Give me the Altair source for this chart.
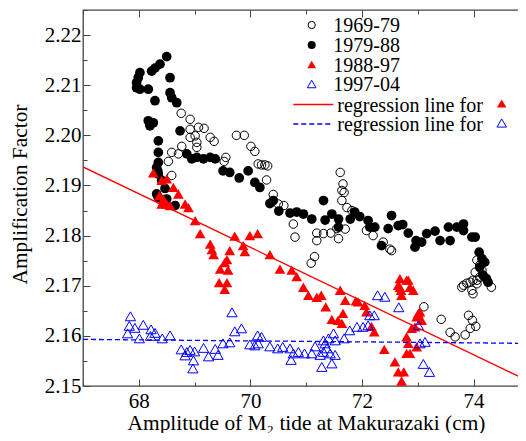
import altair as alt
import pandas as pd

# ---------------- data ----------------
x_1969_79 = [68.76, 68.92, 68.92, 69.07, 69.17, 69.01, 68.92, 69.28, 69.35, 69.04,
             69.04, 68.77, 68.59, 68.71, 69.75, 69.89, 70.01, 70.08, 69.56, 69.53,
             68.53, 70.14, 70.20, 70.26, 70.31, 70.29, 70.41, 70.50, 70.60, 68.59,
             70.77, 70.80, 71.19, 71.31, 71.44, 71.55, 71.70, 71.19, 71.58, 71.15,
             71.09, 71.61, 71.66, 71.64, 71.68, 71.64, 71.73, 71.82, 72.08, 72.20,
             72.38, 72.50, 73.11, 73.42, 73.58, 73.67, 73.85, 73.91, 73.98, 74.04,
             73.94, 73.82, 73.88, 73.94, 73.99, 74.06, 74.11, 74.03, 74.15, 74.32,
             74.11, 74.06, 73.97, 73.99, 74.06, 73.79, 72.53]
y_1969_79 = [2.2044, 2.2032, 2.2012, 2.2016, 2.2014, 2.1999, 2.1996, 2.1996, 2.1988, 2.1986,
             2.1976, 2.1978, 2.1966, 2.1963, 2.2000, 2.2000, 2.1978, 2.1968, 2.1956, 2.1948,
             2.1948, 2.1943, 2.1941, 2.1941, 2.1939, 2.1911, 2.1882, 2.1863, 2.1860, 2.1920,
             2.1823, 2.1797, 2.1805, 2.1804, 2.1805, 2.1814, 2.1813, 2.1790, 2.1794, 2.1758,
             2.1745, 2.1926, 2.1903, 2.1890, 2.1886, 2.1870, 2.1856, 2.1850, 2.1810, 2.1800,
             2.1787, 2.1773, 2.1658, 2.1633, 2.1607, 2.1598, 2.1602, 2.1641, 2.1631, 2.1619,
             2.1615, 2.1701, 2.1705, 2.1707, 2.1711, 2.1711, 2.1717, 2.1727, 2.1731, 2.1697,
             2.1741, 2.1751, 2.1691, 2.1684, 2.1704, 2.1697, 2.1770]

x_1979_88 = [68.50, 68.38, 68.29, 68.23, 68.02, 67.99, 67.96, 67.96, 68.02, 68.17,
             68.56, 68.56, 68.59, 68.68, 68.29, 68.17, 68.20, 68.26, 68.35, 68.74,
             68.35, 68.35, 68.32, 68.35, 68.86, 68.95, 69.04, 69.16, 69.28, 69.37,
             68.41, 68.32, 68.35, 68.50, 68.65, 69.51, 69.63, 69.80, 69.96, 70.08,
             70.17, 70.35, 70.41, 70.51, 70.71, 70.83, 70.95, 71.10, 71.31, 71.34,
             71.46, 71.58, 71.58, 71.79, 71.87, 71.96, 72.11, 72.14, 72.23, 72.35,
             72.47, 72.53, 72.65, 72.73, 72.83, 72.97, 72.95, 73.07, 73.16, 73.31,
             73.40, 73.55, 73.58, 73.70, 73.82, 73.82, 73.97, 74.03, 74.10, 74.15,
             74.20, 74.11, 74.17, 74.23, 74.26, 68.47, 68.34]
y_1979_88 = [2.2157, 2.2142, 2.2134, 2.2128, 2.2125, 2.2115, 2.2105, 2.2095, 2.2092, 2.2092,
             2.2115, 2.2085, 2.2075, 2.2065, 2.2069, 2.2029, 2.2019, 2.2025, 2.1989, 2.2009,
             2.1966, 2.1946, 2.1936, 2.1923, 2.1963, 2.1953, 2.1956, 2.1953, 2.1956, 2.1953,
             2.1910, 2.1883, 2.1876, 2.1873, 2.1860, 2.1929, 2.1926, 2.1915, 2.1929, 2.1906,
             2.1896, 2.1864, 2.1870, 2.1849, 2.1845, 2.1847, 2.1843, 2.1833, 2.1870, 2.1831,
             2.1843, 2.1833, 2.1817, 2.1833, 2.1847, 2.1838, 2.1830, 2.1817, 2.1817, 2.1780,
             2.1814, 2.1840, 2.1820, 2.1822, 2.1805, 2.1790, 2.1777, 2.1787, 2.1804, 2.1809,
             2.1790, 2.1817, 2.1790, 2.1817, 2.1823, 2.1810, 2.1797, 2.1797, 2.1767, 2.1754,
             2.1747, 2.1737, 2.1721, 2.1714, 2.1707, 2.1894, 2.1929]

x_1988_97 = [68.26, 68.41, 68.50, 68.62, 68.71, 68.37, 68.44, 68.41, 68.50, 68.56,
             68.83, 68.89, 69.01, 69.10, 69.28, 69.31, 69.34, 69.58, 69.54, 69.46,
             69.60, 69.44, 69.58, 69.54, 69.72, 69.87, 69.90, 69.99, 70.13, 69.63,
             70.35, 70.53, 70.74, 70.83, 70.95, 71.04, 71.19, 71.27, 71.35, 71.61,
             71.70, 71.46, 71.57, 71.66, 71.64, 71.89, 72.05, 72.08, 72.17, 72.22,
             72.40, 72.68, 72.83, 72.70, 72.71, 72.92, 72.68, 72.80, 72.65, 72.86,
             72.80, 72.83, 72.80, 72.59, 72.65, 72.75, 72.71, 72.89, 73.01, 73.07,
             72.98, 72.95, 72.98, 72.86, 73.04, 71.93]
y_1988_97 = [2.1925, 2.1910, 2.1913, 2.1896, 2.1883, 2.1880, 2.1873, 2.1863, 2.1863, 2.1860,
             2.1863, 2.1856, 2.1830, 2.1804, 2.1783, 2.1772, 2.1762, 2.1752, 2.1746, 2.1733,
             2.1731, 2.1706, 2.1706, 2.1693, 2.1799, 2.1780, 2.1768, 2.1800, 2.1804, 2.1770,
             2.1762, 2.1733, 2.1731, 2.1718, 2.1697, 2.1681, 2.1677, 2.1681, 2.1658, 2.1691,
             2.1671, 2.1633, 2.1631, 2.1645, 2.1625, 2.1670, 2.1661, 2.1648, 2.1619, 2.1608,
             2.1573, 2.1714, 2.1711, 2.1691, 2.1681, 2.1691, 2.1697, 2.1711, 2.1701, 2.1697,
             2.1598, 2.1585, 2.1565, 2.1548, 2.1528, 2.1528, 2.1510, 2.1615, 2.1645, 2.1631,
             2.1638, 2.1618, 2.1578, 2.1565, 2.1648, 2.1668]

x_1997_04 = [67.85, 67.83, 67.93, 68.08, 67.80, 68.01, 68.22, 68.29, 68.21, 68.42,
             68.56, 68.76, 68.86, 68.83, 68.92, 69.00, 68.98, 68.97, 69.16, 69.25,
             69.37, 69.42, 69.51, 69.63, 69.67, 69.72, 69.84, 69.99, 70.08, 70.13,
             70.20, 70.14, 70.35, 70.49, 70.58, 70.71, 70.73, 70.77, 70.86, 70.97,
             71.10, 71.16, 71.25, 71.28, 71.31, 71.34, 71.37, 71.31, 71.40, 71.49,
             71.43, 71.46, 71.52, 71.68, 71.78, 71.91, 72.02, 72.11, 72.14, 72.22,
             72.28, 72.41, 72.66, 73.01, 73.04, 73.13, 73.10, 73.21, 71.52]
y_1997_04 = [2.1639, 2.1620, 2.1616, 2.1622, 2.1605, 2.1595, 2.1613, 2.1606, 2.1600, 2.1595,
             2.1601, 2.1573, 2.1568, 2.1561, 2.1572, 2.1569, 2.1551, 2.1535, 2.1576, 2.1559,
             2.1574, 2.1562, 2.1585, 2.1587, 2.1647, 2.1609, 2.1615, 2.1583, 2.1581, 2.1601,
             2.1598, 2.1585, 2.1579, 2.1575, 2.1578, 2.1575, 2.1552, 2.1565, 2.1568, 2.1565,
             2.1565, 2.1579, 2.1562, 2.1538, 2.1568, 2.1585, 2.1575, 2.1591, 2.1595, 2.1605,
             2.1565, 2.1545, 2.1562, 2.1595, 2.1611, 2.1618, 2.1618, 2.1621, 2.1641, 2.1641,
             2.1681, 2.1678, 2.1657, 2.1621, 2.1585, 2.1588, 2.1544, 2.1528, 2.1591]

reg_x = [67.0, 75.0]
reg_red_y = [2.1937, 2.1509]
reg_blue_y = [2.1593, 2.1585]

x_major_ticks = [68, 70, 72, 74]
x_minor_ticks = [67, 69, 71, 73]
y_major_ticks = [2.15, 2.16, 2.17, 2.18, 2.19, 2.20, 2.21, 2.22]
y_minor_ticks = [2.155, 2.165, 2.175, 2.185, 2.195, 2.205, 2.215, 2.225]

legend_labels = ["1969-79", "1979-88", "1988-97", "1997-04",
                 "regression line for", "regression line for"]
x_title = "Amplitude of M\u2082 tide at Makurazaki (cm)"
y_title = "Amplification Factor"

# ---------------- styling ----------------
FONT = "Liberation Serif, Times New Roman, Times, serif"
AXC = "#444444"
W, H = 443, 376
xs = alt.Scale(domain=[67, 74.94], nice=False, zero=False)
ys = alt.Scale(domain=[2.15, 2.225], nice=False, zero=False)


def tick_axis(orient, values, size):
    return alt.Axis(orient=orient, values=values, tickSize={"expr": str(-size)},
                    tickColor=AXC, tickWidth=1, labels=False, domain=False,
                    grid=False, title=None)


x_main = alt.Axis(orient="bottom", values=x_major_ticks, tickSize={"expr": "-7"},
                  tickColor=AXC, tickWidth=1, domain=False, grid=False,
                  labels=True, labelFont=FONT, labelFontSize=21, labelColor="black",
                  labelPadding=11, labelFlush=False, labelOverlap=False, format="d",
                  title=x_title, titleFont=FONT, titleFontSize=21.4,
                  titleFontWeight="normal", titleColor="black", titleX=223,
                  titleY=43, titleAlign="center", titleBaseline="alphabetic")
y_main = alt.Axis(orient="left", values=y_major_ticks, tickSize={"expr": "-7"},
                  tickColor=AXC, tickWidth=1, domain=False, grid=False,
                  labels=True, labelFont=FONT, labelFontSize=21, labelColor="black",
                  labelPadding=9, labelFlush=False, labelOverlap=False, format=".2f",
                  title=y_title, titleFont=FONT, titleFontSize=21.4,
                  titleFontWeight="normal", titleColor="black", titleX=-57,
                  titleY=184, titleAngle=270, titleAlign="center",
                  titleBaseline="alphabetic")


def df(xv, yv):
    return pd.DataFrame({"x": xv, "y": yv})


open_c = alt.Chart(df(x_1969_79, y_1969_79)).mark_point(
    shape="circle", filled=False, size=72, stroke="black", strokeWidth=1, opacity=1
).encode(x=alt.X("x:Q", scale=xs, axis=x_main), y=alt.Y("y:Q", scale=ys, axis=y_main))

filled_c = alt.Chart(df(x_1979_88, y_1979_88)).mark_point(
    shape="circle", filled=True, size=95, color="black", opacity=1
).encode(x=alt.X("x:Q", scale=xs, axis=tick_axis("top", x_major_ticks, 7)),
         y=alt.Y("y:Q", scale=ys, axis=tick_axis("right", y_major_ticks, 7)))

red_t = alt.Chart(df(x_1988_97, y_1988_97)).mark_point(
    shape="triangle-up", filled=True, size=115, color="#ff0000", opacity=1
).encode(x=alt.X("x:Q", scale=xs, axis=tick_axis("bottom", x_minor_ticks, 4)),
         y=alt.Y("y:Q", scale=ys, axis=tick_axis("left", y_minor_ticks, 4)))

blue_t = alt.Chart(df(x_1997_04, y_1997_04)).mark_point(
    shape="triangle-up", filled=False, size=105, stroke="#0000ff", strokeWidth=1, opacity=1
).encode(x=alt.X("x:Q", scale=xs, axis=tick_axis("top", x_minor_ticks, 4)),
         y=alt.Y("y:Q", scale=ys, axis=tick_axis("right", y_minor_ticks, 4)))

reg_red = alt.Chart(df(reg_x, reg_red_y)).mark_line(
    color="#ff0000", strokeWidth=1.3, clip=True
).encode(x=alt.X("x:Q", scale=xs, axis=None), y=alt.Y("y:Q", scale=ys, axis=None))

reg_blue = alt.Chart(df(reg_x, reg_blue_y)).mark_line(
    color="#0000ff", strokeWidth=1.3, strokeDash=[5, 3], clip=True
).encode(x=alt.X("x:Q", scale=xs, axis=None), y=alt.Y("y:Q", scale=ys, axis=None))

# ---------------- legend (drawn inside the plot) ----------------
one = pd.DataFrame({"a": [0]})
rows = [15, 35, 54.5, 74, 94.5, 114]
SX = 228.7


def lg_text(i, x):
    return alt.Chart(pd.DataFrame({"t": [legend_labels[i]]})).mark_text(
        align="left", baseline="alphabetic", font=FONT, fontSize=20, color="black"
    ).encode(x=alt.value(x), y=alt.value(rows[i] + 7), text="t:N")


def lg_point(x, y, shape, filled, color, size):
    m = dict(shape=shape, filled=filled, size=size, opacity=1, strokeWidth=1)
    if filled:
        m["color"] = color
    else:
        m["stroke"] = color
    return alt.Chart(one).mark_point(**m).encode(x=alt.value(x), y=alt.value(y))


def lg_rule(y, color, dash=None):
    m = dict(color=color, strokeWidth=1.3)
    if dash:
        m["strokeDash"] = dash
    return alt.Chart(one).mark_rule(**m).encode(
        x=alt.value(210.3), x2=alt.value(250.3), y=alt.value(y))


legend_layers = [
    lg_point(SX, rows[0], "circle", False, "black", 52),
    lg_point(SX, rows[1], "circle", True, "black", 64),
    lg_point(SX, rows[2], "triangle-up", True, "#ff0000", 75),
    lg_point(SX, rows[3], "triangle-up", False, "#0000ff", 75),
    lg_rule(rows[4], "#ff0000"),
    lg_rule(rows[5], "#0000ff", [5, 3]),
    lg_point(418.7, rows[4] - 1, "triangle-up", True, "#ff0000", 90),
    lg_point(418.7, rows[5] - 1, "triangle-up", False, "#0000ff", 90),
] + [lg_text(i, 250.3) for i in range(4)] + [lg_text(i, 254.3) for i in (4, 5)]

chart = alt.layer(
    open_c, filled_c, red_t, blue_t, reg_red, reg_blue, *legend_layers
).resolve_axis(x="independent", y="independent").properties(
    width=W, height=H,
    padding={"left": 75, "top": 2, "right": -8, "bottom": 47},
    autosize=alt.AutoSizeParams(type="none"),
    background="white",
).configure_view(stroke=AXC, strokeWidth=1.3)

chart.save("out.html", embed_options={"renderer": "svg", "actions": False})
